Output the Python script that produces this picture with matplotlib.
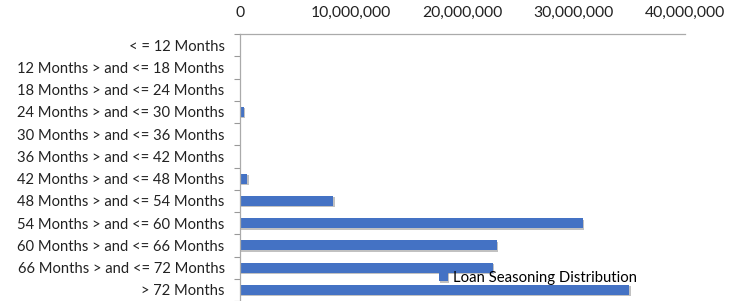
import numpy as np
import matplotlib
matplotlib.use('Agg')
import matplotlib.pyplot as plt
import matplotlib.patheffects as pe
from matplotlib.ticker import FuncFormatter, FixedLocator

plt.rcParams['font.family'] = ['Lato', 'DejaVu Sans']

categories = ['< = 12 Months',
              '12 Months > and <= 18 Months',
              '18 Months > and <= 24 Months',
              '24 Months > and <= 30 Months',
              '30 Months > and <= 36 Months',
              '36 Months > and <= 42 Months',
              '42 Months > and <= 48 Months',
              '48 Months > and <= 54 Months',
              '54 Months > and <= 60 Months',
              '60 Months > and <= 66 Months',
              '66 Months > and <= 72 Months',
              '> 72 Months']
balances = [0, 0, 0, 350000, 0, 0, 650000, 8400000, 30800000, 23100000, 22700000, 35000000]
x_ticks = [0, 10000000, 20000000, 30000000, 40000000]

fig = plt.figure(figsize=(7.37, 3.01), dpi=100, facecolor='white')
ax = fig.add_axes([240 / 737, 0.0, 445 / 737, 1 - 34 / 301])

y = np.arange(len(categories))
bars = ax.barh(y, balances, height=0.45, color='#4472C4',
               label='Loan Seasoning Distribution')
for b in bars:
    b.set_path_effects([pe.SimplePatchShadow(offset=(1, -1), shadow_rgbFace='#777777', alpha=0.45),
                        pe.Normal()])

ax.set_xlim(0, 40000000)
ax.set_ylim(len(categories) - 0.5, -0.5)
ax.xaxis.set_major_locator(FixedLocator(x_ticks))
ax.xaxis.set_major_formatter(FuncFormatter(lambda v, p: '{:,.0f}'.format(v)))
ax.xaxis.tick_top()
ax.tick_params(axis='x', length=0, pad=10, labelsize=11.3, colors='#222222')

ax.set_yticks(y)
ax.set_yticklabels(categories)
ax.set_yticks(np.arange(len(categories) + 1) - 0.5, minor=True)
ax.tick_params(axis='y', which='major', length=0, pad=11, labelsize=10.6, colors='#222222')
ax.tick_params(axis='y', which='minor', length=4, color='#999999', width=0.8)

for s in ['right', 'bottom']:
    ax.spines[s].set_visible(False)
for s in ['left', 'top']:
    ax.spines[s].set_color('#aaaaaa')
    ax.spines[s].set_linewidth(0.9)

ax.legend(loc='center left', bbox_to_anchor=(439 / 737, 1 - 278 / 301),
          bbox_transform=fig.transFigure, frameon=False, fontsize=10.7,
          handlelength=0.6, handleheight=0.6, handletextpad=0.35,
          borderpad=0, borderaxespad=0)

fig.savefig('out.png', dpi=100, facecolor='white')
